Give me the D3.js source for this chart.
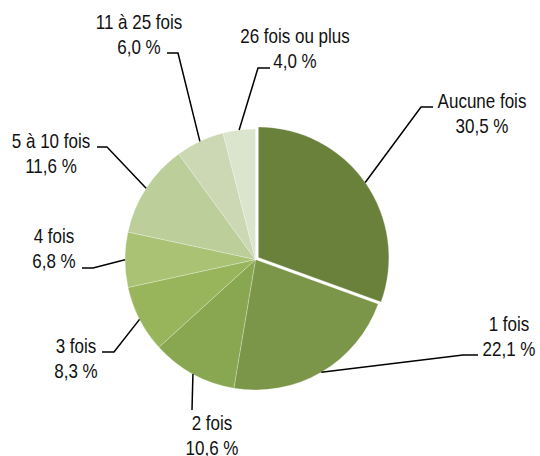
<!DOCTYPE html>
<html>
<head>
<meta charset="utf-8">
<script src="https://cdn.jsdelivr.net/npm/d3@7"></script>
<style>
  html, body { margin: 0; padding: 0; background: #fff; }
  svg text { font-family: "Liberation Sans", Arial, sans-serif; fill: #111; }
</style>
</head>
<body>
<div id="chart"></div>
<script>
(function() {
  'use strict';

  // --- Data ---
  const categories = ['Aucune fois', '1 fois', '2 fois', '3 fois', '4 fois', '5 à 10 fois', '11 à 25 fois', '26 fois ou plus'];
  const shares = [30.5, 22.1, 10.6, 8.3, 6.8, 11.6, 6.0, 4.0];
  const shareLabels = ['30,5 %', '22,1 %', '10,6 %', '8,3 %', '6,8 %', '11,6 %', '6,0 %', '4,0 %'];
  const colors = ['#69813a', '#7b9648', '#89a650', '#98b55b', '#a9c274', '#bccf9b', '#cbd8b3', '#dbe4cc'];

  // label layout: text centre x, first baseline y, elbow point, end of the short horizontal tick
  const labelLayout = [
    { tx: 482, ty: 108, ex: 421, ey: 107, hx: 433 },
    { tx: 509, ty: 331, ex: 463, ey: 355, hx: 478 },
    { tx: 212, ty: 430, ex: 192, ey: 410, hx: 192 },
    { tx: 76,  ty: 353, ex: 114, ey: 352, hx: 102 },
    { tx: 54,  ty: 243, ex: 93,  ey: 268, hx: 82 },
    { tx: 51,  ty: 148, ex: 107, ey: 147, hx: 97 },
    { tx: 139, ty: 29,  ex: 178, ey: 53,  hx: 167 },
    { tx: 295, ty: 43,  ex: 258, ey: 68,  hx: 270 }
  ];

  const width = 540, height = 456;
  const cx = 255.5, cy = 259.5, radius = 130.5;
  const explode = 3.5;

  const svg = d3.select('#chart').append('svg')
    .attr('width', width)
    .attr('height', height);

  const rows = categories.map((c, i) => ({ name: c, value: shares[i], label: shareLabels[i], color: colors[i], layout: labelLayout[i] }));

  const pie = d3.pie().sort(null).value(d => d.value);
  const arcs = pie(rows);
  const arc = d3.arc().innerRadius(0).outerRadius(radius);

  const g = svg.append('g').attr('transform', `translate(${cx},${cy})`);

  function offset(d, i) {
    if (i !== 0) return [0, 0];
    const a = (d.startAngle + d.endAngle) / 2;
    return [Math.sin(a) * explode, -Math.cos(a) * explode];
  }

  g.selectAll('path')
    .data(arcs)
    .join('path')
    .attr('d', arc)
    .attr('fill', d => d.data.color)
    .attr('stroke', '#fff')
    .attr('stroke-opacity', 0.45)
    .attr('stroke-width', 0.6)
    .attr('transform', (d, i) => {
      const o = offset(d, i);
      return `translate(${o[0]},${o[1]})`;
    });

  // Leader lines
  const lines = svg.append('g');
  arcs.forEach((d, i) => {
    const a = (d.startAngle + d.endAngle) / 2;
    const o = offset(d, i);
    const sx = cx + o[0] + Math.sin(a) * radius;
    const sy = cy + o[1] - Math.cos(a) * radius;
    const L = d.data.layout;
    lines.append('polyline')
      .attr('points', `${sx},${sy} ${L.ex},${L.ey} ${L.hx},${L.ey}`)
      .attr('fill', 'none')
      .attr('stroke', '#000')
      .attr('stroke-width', 1.5);
  });

  // Labels
  const labels = svg.append('g');
  arcs.forEach(d => {
    const L = d.data.layout;
    const t = labels.append('g')
      .attr('transform', `translate(${L.tx},${L.ty}) scale(0.85,1)`);
    t.append('text')
      .attr('text-anchor', 'middle')
      .attr('font-size', 20)
      .text(d.data.name);
    t.append('text')
      .attr('text-anchor', 'middle')
      .attr('font-size', 20)
      .attr('y', 25)
      .text(d.data.label);
  });
})();
</script>
</body>
</html>
